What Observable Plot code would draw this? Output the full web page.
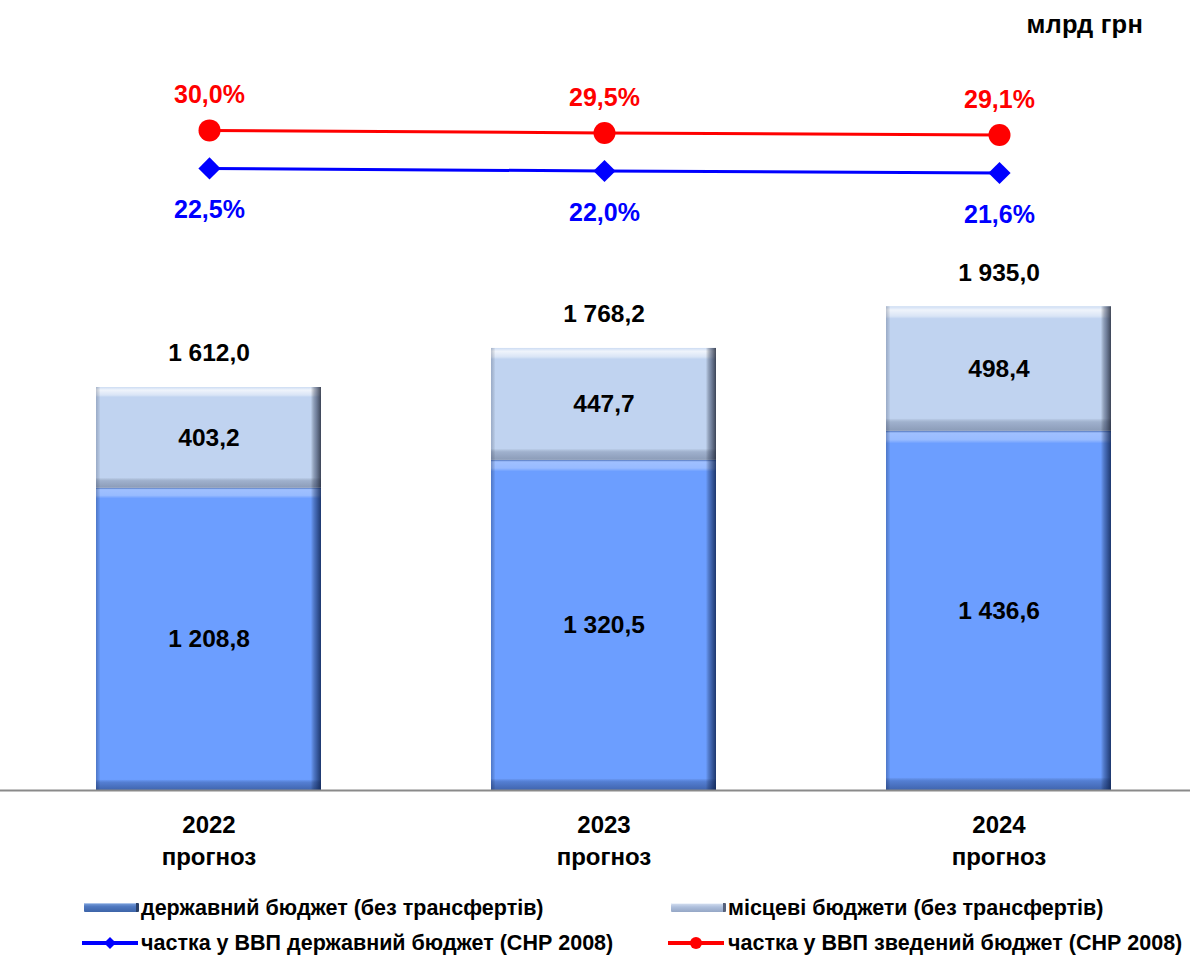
<!DOCTYPE html>
<html>
<head>
<meta charset="utf-8">
<script src="https://cdn.jsdelivr.net/npm/d3@7"></script>
<script src="https://cdn.jsdelivr.net/npm/@observablehq/plot@0.6"></script>
<style>
  html, body { margin: 0; padding: 0; background: #fff; }
  body { font-family: "Liberation Sans", Arial, sans-serif; }
  #wrap { position: relative; width: 1190px; height: 956px; overflow: hidden; }
  #top { position: absolute; left: 0; top: 0; }
  #bottom { position: absolute; left: 0; top: 250px; }
  .unit { position: absolute; right: 47px; top: 10px; font-size: 25.5px; font-weight: bold; color: #000; letter-spacing: 0.2px; }
  .lg { position: absolute; font-size: 21.5px; font-weight: bold; line-height: 24px; color: #000; white-space: nowrap; }
  .sw { position: absolute; height: 9px; width: 52px; border-radius: 1px; }
  .swState { background: linear-gradient(to bottom, #7ea3dc 0%, #4f78c0 40%, #3d64a8 100%); border-right: 3px solid #2a3f66; box-shadow: inset 0 1px 0 #a9c2ea; }
  .swLocal { background: linear-gradient(to bottom, #d8e2f2 0%, #aebfdc 45%, #95a7c6 100%); border-right: 3px solid #56617a; box-shadow: inset 0 1px 0 #eef3fb; }
  .lgline { position: absolute; }
</style>
</head>
<body>
<div id="wrap">
  <div id="top"></div>
  <div id="bottom"></div>
  <div class="unit">млрд грн</div>
  <div id="legend"></div>
</div>
<script>
// ---- data ----
const years = ["2022", "2023", "2024"];
const yearSuffix = "прогноз";
const stateBudget = [1208.8, 1320.5, 1436.6];
const localBudgets = [403.2, 447.7, 498.4];
const totals = [1612.0, 1768.2, 1935.0];
const shareState = [22.5, 22.0, 21.6];
const shareConsolidated = [30.0, 29.5, 29.1];
const seriesNames = [
  "державний бюджет (без трансфертів)",
  "місцеві бюджети (без трансфертів)",
  "частка у ВВП державний бюджет (СНР 2008)",
  "частка у ВВП зведений бюджет (СНР 2008)"
];

// ---- formatting ----
const locale = d3.formatLocale({decimal: ",", thousands: " ", grouping: [3], currency: ["", ""]});
const fmt = locale.format(",.1f");
const pct = v => locale.format(".1f")(v) + "%";

const FONT = "'Liberation Sans', Arial, sans-serif";
const W = 1190;
const ML = 10, MR = -7;
const xOpts = {domain: years, paddingInner: 0.43, paddingOuter: 0.215, axis: null, label: null};

// ---- top: shares of GDP ----
const stateRows = years.map((y, i) => ({year: y, v: shareState[i]}));
const consRows = years.map((y, i) => ({year: y, v: shareConsolidated[i]}));

const topPlot = Plot.plot({
  width: W, height: 250,
  marginTop: 0, marginBottom: 0, marginLeft: ML, marginRight: MR,
  style: {fontFamily: FONT, background: "transparent", overflow: "visible"},
  x: xOpts,
  y: {domain: [6.33, 55.6], axis: null},
  marks: [
    Plot.line(consRows, {x: "year", y: "v", stroke: "#ff0000", strokeWidth: 3}),
    Plot.dot(consRows, {x: "year", y: "v", r: 11, fill: "#ff0000", stroke: "none"}),
    Plot.text(consRows, {x: "year", y: "v", text: d => pct(d.v), dy: -35, fill: "#ff0000", fontSize: 25, fontWeight: "bold"}),
    Plot.line(stateRows, {x: "year", y: "v", stroke: "#0000ff", strokeWidth: 3}),
    Plot.dot(stateRows, {x: "year", y: "v", r: 10, symbol: "diamond2", fill: "#0000ff", stroke: "none"}),
    Plot.text(stateRows, {x: "year", y: "v", text: d => pct(d.v), dy: 42, fill: "#0000ff", fontSize: 25, fontWeight: "bold"})
  ]
});
document.getElementById("top").append(topPlot);

// ---- bottom: stacked bars ----
const stateSeg = years.map((y, i) => ({year: y, y1: 0, y2: stateBudget[i], value: stateBudget[i]}));
const localSeg = years.map((y, i) => ({year: y, y1: stateBudget[i], y2: stateBudget[i] + localBudgets[i], value: localBudgets[i]}));
const totalRows = years.map((y, i) => ({year: y, value: totals[i]}));

const bevel = (data, base, vGrad, hGrad) => [
  Plot.barY(data, {x: "year", y1: "y1", y2: "y2", fill: base}),
  Plot.barY(data, {x: "year", y1: "y1", y2: "y2", fill: `url(#${vGrad})`}),
  Plot.barY(data, {x: "year", y1: "y1", y2: "y2", fill: `url(#${hGrad})`})
];

const bottomPlot = Plot.plot({
  width: W, height: 630,
  marginTop: 0, marginBottom: 90, marginLeft: ML, marginRight: MR,
  style: {fontFamily: FONT, background: "transparent"},
  x: xOpts,
  y: {domain: [0, 2160], axis: null},
  marks: [
    ...bevel(stateSeg, "#6c9eff", "vState", "hState"),
    ...bevel(localSeg, "#c0d3f0", "vLocal", "hLocal"),
    Plot.ruleY([0], {stroke: "#8a8a8a", strokeWidth: 2, insetLeft: -10}),
    Plot.text(stateSeg, {x: "year", y: d => (d.y1 + d.y2) / 2, text: d => fmt(d.value), fontSize: 24.5, fontWeight: "bold", fill: "#000"}),
    Plot.text(localSeg, {x: "year", y: d => (d.y1 + d.y2) / 2, text: d => fmt(d.value), fontSize: 24.5, fontWeight: "bold", fill: "#000"}),
    Plot.text(totalRows, {x: "year", y: "value", text: d => fmt(d.value), dy: -34, fontSize: 24.5, fontWeight: "bold", fill: "#000"}),
    Plot.axisX({tickSize: 0, tickPadding: 19, fontSize: 24, fontWeight: "bold", lineHeight: 1.35, label: null,
      tickFormat: d => d + "\n" + yearSuffix, fill: "#000"})
  ]
});

// gradient defs for the bevel look
const defs = d3.select(bottomPlot).insert("defs", ":first-child");
function grad(id, vertical, stops) {
  const g = defs.append("linearGradient").attr("id", id)
    .attr("x1", 0).attr("y1", 0).attr("x2", vertical ? 0 : 1).attr("y2", vertical ? 1 : 0);
  stops.forEach(([o, c, a]) => g.append("stop").attr("offset", o).attr("stop-color", c).attr("stop-opacity", a));
}
grad("vState", true, [
  [0, "#1b2f5a", 0.45], [0.006, "#ffffff", 0.35], [0.025, "#ffffff", 0.3], [0.035, "#ffffff", 0],
  [0.965, "#000000", 0], [0.975, "#0a1e4a", 0.25], [1, "#0a1e4a", 0.45]
]);
grad("hState", false, [
  [0, "#0a1e4a", 0.3], [0.02, "#000000", 0],
  [0.955, "#000000", 0], [0.975, "#0a1e4a", 0.4], [1, "#0a1e4a", 0.8]
]);
grad("vLocal", true, [
  [0, "#ffffff", 0.2], [0.03, "#ffffff", 0.75], [0.08, "#ffffff", 0.4], [0.1, "#ffffff", 0],
  [0.9, "#000000", 0], [0.93, "#2a3550", 0.22], [1, "#2a3550", 0.35]
]);
grad("hLocal", false, [
  [0, "#2a3550", 0.25], [0.02, "#000000", 0],
  [0.955, "#000000", 0], [0.975, "#2a3550", 0.45], [1, "#1a2030", 0.8]
]);
document.getElementById("bottom").append(bottomPlot);

// ---- legend ----
const lg = document.getElementById("legend");
function addText(txt, left, cy) {
  const d = document.createElement("div");
  d.className = "lg"; d.textContent = txt;
  d.style.left = left + "px"; d.style.top = (cy - 12) + "px";
  lg.append(d);
}
function addSwatch(cls, left, cy) {
  const d = document.createElement("div");
  d.className = "sw " + cls;
  d.style.left = left + "px"; d.style.top = (cy - 5) + "px";
  lg.append(d);
}
function addLine(color, left, cy, marker) {
  const ns = "http://www.w3.org/2000/svg";
  const s = document.createElementNS(ns, "svg");
  s.setAttribute("width", 56); s.setAttribute("height", 20);
  s.setAttribute("class", "lgline");
  s.style.left = left + "px"; s.style.top = (cy - 10) + "px";
  const l = document.createElementNS(ns, "line");
  l.setAttribute("x1", 0); l.setAttribute("x2", 56); l.setAttribute("y1", 10); l.setAttribute("y2", 10);
  l.setAttribute("stroke", color); l.setAttribute("stroke-width", 4);
  s.append(l);
  if (marker === "diamond") {
    const p = document.createElementNS(ns, "path");
    p.setAttribute("d", "M28,4L34,10L28,16L22,10Z"); p.setAttribute("fill", color);
    s.append(p);
  } else {
    const c = document.createElementNS(ns, "circle");
    c.setAttribute("cx", 28); c.setAttribute("cy", 10); c.setAttribute("r", 6); c.setAttribute("fill", color);
    s.append(c);
  }
  lg.append(s);
}
addSwatch("swState", 84, 908); addText(seriesNames[0], 141, 908);
addSwatch("swLocal", 671, 908); addText(seriesNames[1], 728, 908);
addLine("#0000ff", 82, 943, "diamond"); addText(seriesNames[2], 141, 943);
addLine("#ff0000", 668, 943, "circle"); addText(seriesNames[3], 728, 943);
</script>
</body>
</html>
